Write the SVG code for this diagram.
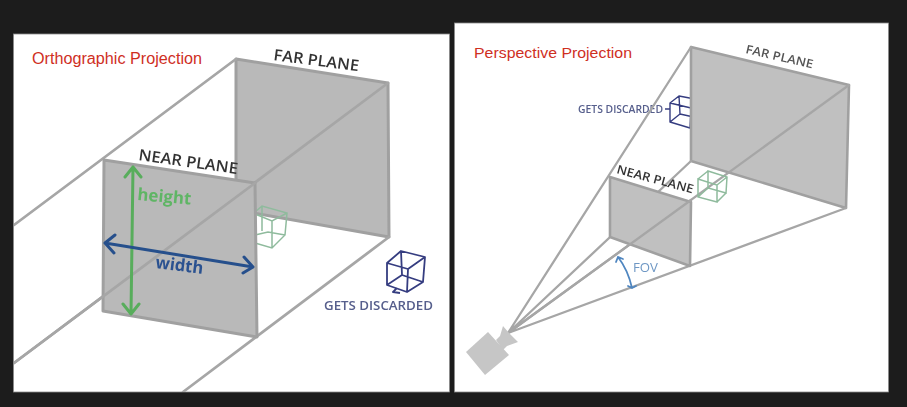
<svg xmlns="http://www.w3.org/2000/svg" width="907" height="407" viewBox="0 0 907 407">
<defs>
<filter id="soft" x="-5%" y="-5%" width="110%" height="110%"><feGaussianBlur stdDeviation="0.6"/></filter>
<clipPath id="lp"><rect x="14" y="34" width="435" height="358"/></clipPath>
<clipPath id="rp"><rect x="455" y="23" width="433" height="369"/></clipPath>
</defs>
<style>
.panel{fill:#fff;stroke:#8a8a8a;stroke-width:.8}
.edge{fill:none;stroke:#a6a6a6;stroke-width:2.8;stroke-linecap:round;stroke-linejoin:round}
.thin{stroke-width:2.3}
.plane{fill:#b9b9b9;stroke:#a0a0a0;stroke-width:3;stroke-linejoin:round}
.plane2{fill:#c0c0c0;stroke:#a0a0a0;stroke-width:2.6;stroke-linejoin:round}
.gcube{fill:none;stroke:#8fbb9d;stroke-width:1.5}
.bcube{fill:none;stroke:#363d80;stroke-width:1.8;stroke-linejoin:round}
.t{font-family:"Open Sans","Liberation Sans",sans-serif}
.lab{fill:#333;font-weight:600}
.disc{fill:#565e8c;font-weight:600}
.title{font-family:"Liberation Sans",Arial,sans-serif;fill:#cf2f1f}
.gline{fill:none;stroke:#58ad5c;stroke-width:3;stroke-linecap:round;stroke-linejoin:round}
.bline{fill:none;stroke:#26508c;stroke-width:3;stroke-linecap:round;stroke-linejoin:round}
</style>
<rect width="907" height="407" fill="#1c1c1c"/>
<rect class="panel" x="13.5" y="34" width="436" height="358"/>
<rect class="panel" x="454.5" y="23" width="434" height="369"/>

<g id="orthographic" clip-path="url(#lp)" filter="url(#soft)">
  <g id="ortho-far-plane">
    <polygon class="plane" points="236,59 388,83 389,237 236,210"/>
  </g>
  <g id="ortho-inside-cube">
    <path class="gcube" d="M255,212 262,206 287,213 285,235 272,248 255,243M255,214 272,221 287,213M272,221 272,248M255,235 268,232 285,235M262,206 262,231"/>
  </g>
  <g id="ortho-connectors">
    <path class="edge" d="M236,59 14,225M388,83 14,363M389,237 183,392"/>
  </g>
  <g id="ortho-near-plane">
    <polygon class="plane" points="104,160 255,183 257,337 103,311"/>
    <path class="edge" d="M255,183 14,363"/>
  </g>
  <text class="t lab" transform="translate(138 160) rotate(8)" font-size="15.5" textLength="100" lengthAdjust="spacingAndGlyphs">NEAR PLANE</text>
  <text class="t lab" transform="translate(273 60) rotate(7.5)" font-size="15.5" textLength="86" lengthAdjust="spacingAndGlyphs">FAR PLANE</text>
  <g id="height-arrow">
    <path class="gline" d="M133,167 131,314M125,177 133,167 141,177M123,304 131,314 139,304"/>
    <text class="t" transform="translate(137 200) rotate(5)" font-size="17" font-weight="700" fill="#5fb565" textLength="54" lengthAdjust="spacingAndGlyphs">height</text>
  </g>
  <g id="width-arrow">
    <path class="bline" d="M105,243 253,267M115,235 105,243 114,253M244,257 253,267 243,273"/>
    <text class="t" transform="translate(155 268) rotate(7)" font-size="17" font-weight="700" fill="#2a5190" textLength="48" lengthAdjust="spacingAndGlyphs">width</text>
  </g>
  <g id="ortho-discarded">
    <path class="bcube" d="M387,263 401,251 425,257 423,282 407,292 387,285ZM387,263 408,269 407,292M408,269 425,257M401,251 402,275 423,282M402,275 387,285M397,288 393,292 400,293"/>
    <text class="t disc" x="324" y="309.500" font-size="13" textLength="109" lengthAdjust="spacingAndGlyphs">GETS DISCARDED</text>
  </g>
</g>

<g id="perspective" clip-path="url(#rp)" filter="url(#soft)">
  <g id="persp-discarded">
    <path class="bcube" style="stroke-width:1.4" d="M670,103 691,108 690,128 670,122ZM679,96 700,100 698,118 680,114ZM670,103 679,96M670,122 680,114M665,109H670"/>
    <text class="t disc" x="578" y="113" font-size="10" textLength="85" lengthAdjust="spacingAndGlyphs">GETS DISCARDED</text>
  </g>
  <g id="persp-far-plane">
    <polygon class="plane2" points="691,47 849,85 846,208 691,161"/>
  </g>
  <g id="persp-connectors">
    <path class="edge thin" d="M508,333 691,47M508,333 849,85M508,333 846,208M508,333 691,161"/>
  </g>
  <g id="persp-inside-cube">
    <path class="gcube" d="M698,179 717,185 717,202 698,197ZM708,171 727,177 726,193 708,188ZM698,179 708,171M717,185 727,177M717,202 726,193M698,197 708,188"/>
  </g>
  <g id="persp-near-plane">
    <polygon class="plane2" points="610,177 691,202 690,266 610,237"/>
    <path class="edge thin" d="M508,333 691,200"/>
  </g>
  <text class="t lab" transform="translate(616 173) rotate(15)" font-size="12" textLength="79" lengthAdjust="spacingAndGlyphs">NEAR PLANE</text>
  <text class="t lab" style="fill:#555" transform="translate(745 53) rotate(13)" font-size="12" textLength="69" lengthAdjust="spacingAndGlyphs">FAR PLANE</text>
  <g id="fov">
    <path d="M618,257Q628,270 632,288M616,262 618,257 623,259M628,286 632,288 636,286" fill="none" stroke="#4f86c0" stroke-width="1.8" stroke-linecap="round"/>
    <text class="t" x="633" y="272" font-size="13.500" fill="#6e97c4" textLength="25" lengthAdjust="spacingAndGlyphs">FOV</text>
  </g>
  <g id="camera">
    <polygon points="466,352 488,332 509,355 485,375" fill="#c6c6c6"/>
    <polygon points="496,340 500,336 503,326 509,333 518,342 507,346 503,350" fill="#c6c6c6"/>
  </g>
</g>

<text class="title" x="32" y="63.500" font-size="16" textLength="170" lengthAdjust="spacingAndGlyphs">Orthographic Projection</text>
<text class="title" x="474" y="58" font-size="15" textLength="158" lengthAdjust="spacingAndGlyphs">Perspective Projection</text>
</svg>
